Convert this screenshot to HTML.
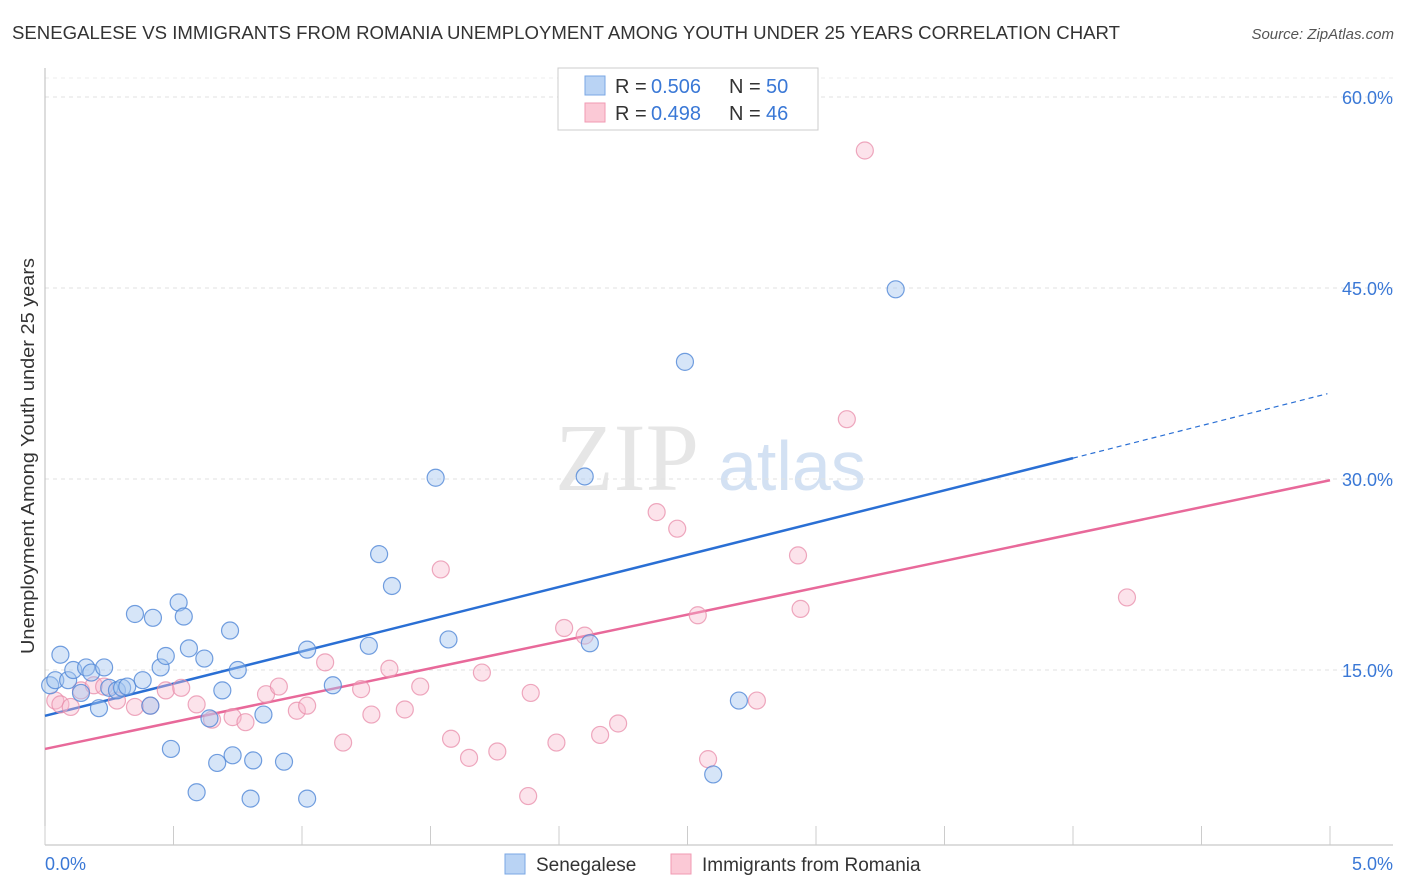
<!DOCTYPE html>
<html><head><meta charset="utf-8"><style>
body{margin:0;background:#fff;font-family:"Liberation Sans",sans-serif;}
#wrap{position:relative;width:1406px;height:892px;overflow:hidden;}
</style></head><body>
<div id="wrap">
<svg id="chart" width="1406" height="892" xmlns="http://www.w3.org/2000/svg">
<text x="12" y="39" font-size="18" fill="#333" textLength="1108" lengthAdjust="spacingAndGlyphs">SENEGALESE VS IMMIGRANTS FROM ROMANIA UNEMPLOYMENT AMONG YOUTH UNDER 25 YEARS CORRELATION CHART</text>
<text x="1394" y="39" font-size="15" fill="#555" font-style="italic" text-anchor="end">Source: ZipAtlas.com</text>
<text x="0" y="0" transform="translate(34,456) rotate(-90)" font-size="18" fill="#333" text-anchor="middle" textLength="396" lengthAdjust="spacingAndGlyphs">Unemployment Among Youth under 25 years</text>
<text x="555" y="490" font-size="96" fill="#e6e6e6" font-family="Liberation Serif,serif">ZIP</text>
<text x="718" y="490" font-size="70" fill="#d3e1f3">atlas</text>
<g id="grid"></g><g id="axes"></g><g id="lines"></g><g id="pts"></g>
<g>
<rect x="558" y="68" width="260" height="62" fill="#fff" stroke="#ccc"/>
<rect x="585" y="76" width="20" height="19" fill="#b9d3f4" stroke="#7aa7e4"/>
<rect x="585" y="103" width="20" height="19" fill="#fbc9d6" stroke="#f09ab3"/>
<text x="615" y="93" font-size="20" fill="#333">R =</text>
<text x="651" y="93" font-size="20" fill="#3a78d6">0.506</text>
<text x="729" y="93" font-size="20" fill="#333">N =</text>
<text x="766" y="93" font-size="20" fill="#3a78d6">50</text>
<text x="615" y="120" font-size="20" fill="#333">R =</text>
<text x="651" y="120" font-size="20" fill="#3a78d6">0.498</text>
<text x="729" y="120" font-size="20" fill="#333">N =</text>
<text x="766" y="120" font-size="20" fill="#3a78d6">46</text>
</g>
<g>
<rect x="505" y="854" width="20" height="20" fill="#b9d3f4" stroke="#7aa7e4"/>
<text x="536" y="871" font-size="19" fill="#333">Senegalese</text>
<rect x="671" y="854" width="20" height="20" fill="#fbc9d6" stroke="#f09ab3"/>
<text x="702" y="871" font-size="19" fill="#333">Immigrants from Romania</text>
</g>
</svg>
</div>
<script>
const yTicks=[15,30,45,60];
const yTickLabels=["15.0%","30.0%","45.0%","60.0%"];
const xTicks=[0,0.5,1,1.5,2,2.5,3,3.5,4,4.5,5];
const blueX=[0.02,0.04,0.06,0.09,0.11,0.16,0.14,0.18,0.21,0.23,0.25,0.28,0.30,0.32,0.35,0.38,0.41,0.42,0.45,0.47,0.49,0.52,0.54,0.56,0.59,0.62,0.64,0.67,0.69,0.72,0.73,0.75,0.81,0.85,0.93,0.80,1.02,1.02,1.12,1.26,1.30,1.35,1.52,1.57,2.10,2.12,2.49,2.60,2.70,3.31];
const blueY=[13.8,14.2,16.2,14.2,15.0,15.2,13.2,14.8,12.0,15.2,13.6,13.4,13.6,13.7,19.4,14.2,12.2,19.1,15.2,16.1,8.8,20.3,19.2,16.7,5.4,15.9,11.2,7.7,13.4,18.1,8.3,15.0,7.9,11.5,7.8,4.9,16.6,4.9,13.8,16.9,24.1,21.6,30.1,17.4,30.2,17.1,39.2,6.8,12.6,44.9];
const pinkX=[0.04,0.06,0.10,0.14,0.19,0.23,0.28,0.35,0.41,0.47,0.53,0.59,0.65,0.73,0.78,0.86,0.91,0.98,1.02,1.09,1.16,1.23,1.27,1.34,1.40,1.46,1.54,1.58,1.65,1.70,1.76,1.89,1.99,2.02,2.10,2.16,2.23,2.38,2.46,2.54,2.58,2.77,2.93,2.94,3.12,3.19,4.21,1.88];
const pinkY=[12.6,12.3,12.1,13.4,13.8,13.7,12.6,12.1,12.2,13.4,13.6,12.3,11.1,11.3,10.9,13.1,13.7,11.8,12.2,15.6,9.3,13.5,11.5,15.1,11.9,13.7,22.9,9.6,8.1,14.8,8.6,13.2,9.3,18.3,17.7,9.9,10.8,27.4,26.1,19.3,8.0,12.6,24.0,19.8,34.7,55.8,20.7,5.1];
const blueFit=[11.4,36.7];
const pinkFit=[8.8,29.9];
const NS="http://www.w3.org/2000/svg";
const sx=v=>45+v*257, sy=v=>861-v*12.733;
function mk(tag,attrs,parent){const e=document.createElementNS(NS,tag);for(const k in attrs)e.setAttribute(k,attrs[k]);document.getElementById(parent).appendChild(e);return e;}
yTicks.forEach((t,i)=>{
 const g=mk('line',{x1:45,x2:1393,y1:sy(t),y2:sy(t),stroke:'#e2e2e2','stroke-dasharray':'4,4'},'grid');
 
 
 const l=mk('text',{x:1393,y:sy(t)+7,'font-size':18,fill:'#3a78d6','text-anchor':'end'},'grid');
 l.textContent=yTickLabels[i];
 
 
});
const tg=mk('line',{x1:45,x2:1393,y1:78,y2:78,stroke:'#eee','stroke-dasharray':'4,4'},'grid');


const ax=mk('line',{x1:45,x2:1393,y1:845,y2:845,stroke:'#bbb'},'axes');


const ay=mk('line',{x1:45,x2:45,y1:68,y2:845,stroke:'#bbb'},'axes');


xTicks.forEach(t=>{
 const tk=mk('line',{x1:sx(t),x2:sx(t),y1:826,y2:845,stroke:'#ccc'},'axes');
 
 
});
const xl0=mk('text',{x:45,y:870,'font-size':18,fill:'#3a78d6'},'axes');xl0.textContent='0.0%';


const xl1=mk('text',{x:1393,y:870,'font-size':18,fill:'#3a78d6','text-anchor':'end'},'axes');xl1.textContent='5.0%';


function pts(X,Y,fill,stroke,name){X.forEach((x,i)=>{
 const c=mk('circle',{cx:sx(x),cy:sy(Y[i]),r:8.5,fill:fill,stroke:stroke,'stroke-width':1.2},'pts');
 
 
});}
pts(pinkX,pinkY,'rgba(248,185,205,0.4)','rgba(232,140,170,0.75)','romania-point');
pts(blueX,blueY,'rgba(165,198,240,0.45)','rgba(80,135,215,0.8)','senegalese-point');
const fb=blueFit[0]+(blueFit[1]-blueFit[0])*4/5;
const bl=mk('line',{x1:sx(0),y1:sy(blueFit[0]),x2:sx(4),y2:sy(fb),stroke:'#2a6fd4','stroke-width':2.5},'lines');


const bd=mk('line',{x1:sx(4),y1:sy(fb),x2:sx(4.99),y2:sy(blueFit[1]),stroke:'#2a6fd4','stroke-width':1.2,'stroke-dasharray':'5,4'},'lines');


const pl=mk('line',{x1:sx(0),y1:sy(pinkFit[0]),x2:sx(5),y2:sy(pinkFit[1]),stroke:'#e8699a','stroke-width':2.5},'lines');


</script>
</body></html>
